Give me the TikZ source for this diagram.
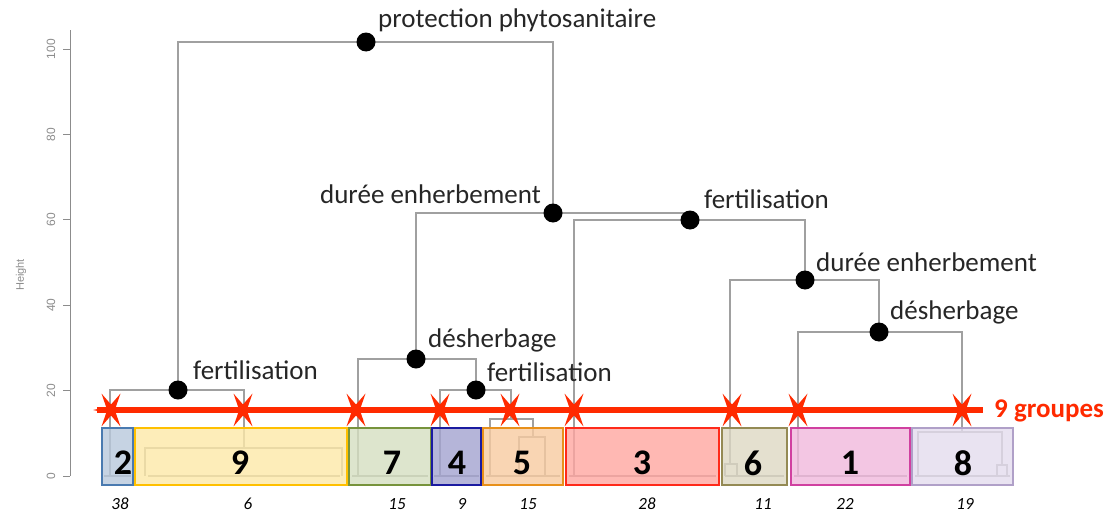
\documentclass[tikz,border=0pt]{standalone}
\usepackage{fontspec}
\setmainfont{Carlito}
\newfontfamily\axisfont{Liberation Sans}
\definecolor{branchgrey}{HTML}{A0A0A0}
\definecolor{axisgrey}{HTML}{8C8C8C}
\definecolor{cutred}{HTML}{FF2A00}
\definecolor{f2}{HTML}{B8C8DC}\definecolor{b2}{HTML}{4A7AB0}
\definecolor{f9}{HTML}{FDE9A8}\definecolor{b9}{HTML}{FFC000}
\definecolor{f7}{HTML}{D5DFC0}\definecolor{b7}{HTML}{77933C}
\definecolor{f4}{HTML}{A3A3D0}\definecolor{b4}{HTML}{1A1AA0}
\definecolor{f5}{HTML}{F8CBA0}\definecolor{b5}{HTML}{E8901A}
\definecolor{f3}{HTML}{FFA6A0}\definecolor{b3}{HTML}{FF2A1A}
\definecolor{f6}{HTML}{DDD8C3}\definecolor{b6}{HTML}{948A54}
\definecolor{f1}{HTML}{F0B8DC}\definecolor{b1}{HTML}{D040A0}
\definecolor{f8}{HTML}{E4DCED}\definecolor{b8}{HTML}{B0A0C8}
\begin{document}
\begin{tikzpicture}[x=1pt,y=-1pt,
  branch/.style={draw=branchgrey, line width=1.3pt},
  dot/.style={circle, fill=black, inner sep=0pt, minimum size=19pt},
  split/.style={font=\fontsize{27}{29}\selectfont, text=black!85, inner sep=0pt},
  groupbox/.style={line width=1.6pt, fill opacity=0.8},
  boxnum/.style={font=\fontsize{36}{38}\selectfont\bfseries, inner sep=0pt},
  sizenum/.style={font=\fontsize{17}{19}\selectfont\itshape, inner sep=0pt},
  tick/.style={font=\axisfont\fontsize{12}{14}\selectfont, text=axisgrey, rotate=90, inner sep=0pt}]
\useasboundingbox (0,0) rectangle (1111,514);

% height axis
\draw[axisgrey, line width=1pt] (70,30) -- (70,476);
\foreach \h in {0,20,...,100}{
  \draw[axisgrey, line width=1pt] (63,{476-4.27*\h}) -- (70,{476-4.27*\h});
  \node[tick] (tick\h) at (51,{476-4.27*\h}) {\h};
}
\node[tick, font=\axisfont\fontsize{11}{13}\selectfont] (ylab) at (21,275) {Height};

% split points
\coordinate (P) at (366,42);
\coordinate (F1) at (178,390);
\coordinate (D1) at (553,213);
\coordinate (Des1) at (416,359);
\coordinate (F2) at (476,390);
\coordinate (F3) at (690,220);
\coordinate (D2) at (805,280);
\coordinate (Des2) at (879,332);
% lower merges hidden inside the group boxes
\coordinate (S9) at (244,448);
\coordinate (S5) at (511,419);
\coordinate (S5b) at (533,437);
\coordinate (S6) at (730,464);
\coordinate (S8) at (962,432);
\coordinate (S8b) at (1002,465);
% leaves at height 0
\foreach \n/\x in {L2/110, L9a/145, L9b/342, L7/358, L4/440, L5a/490, L5b/519, L5c/545,
  L3/574, L6a/725, L6b/737, L1/798, L8a/918, L8b/997, L8c/1007}
  \coordinate (\n) at (\x,476);

% dendrogram
\draw[branch] (F1) |- (P) -| (D1);
\draw[branch] (L2) |- (F1) -| (S9);
\draw[branch] (L9a) |- (S9) -| (L9b);
\draw[branch] (Des1) |- (D1) -| (F3);
\draw[branch] (L7) |- (Des1) -| (F2);
\draw[branch] (L4) |- (F2) -| (S5);
\draw[branch] (L5a) |- (S5) -| (S5b);
\draw[branch] (L5b) |- (S5b) -| (L5c);
\draw[branch] (L3) |- (F3) -| (D2);
\draw[branch] (S6) |- (D2) -| (Des2);
\draw[branch] (L6a) |- (S6) -| (L6b);
\draw[branch] (L1) |- (Des2) -| (S8);
\draw[branch] (L8a) |- (S8) -| (S8b);
\draw[branch] (L8b) |- (S8b) -| (L8c);
% base of the leaves
\foreach \a/\b in {104/131, 148/340, 352/428, 434/479, 486/560, 569/716, 725/784, 794/907, 915/1010}
  \draw[branch] (\a,476) -- (\b,476);

% cut line with its nine cut marks
\coordinate (cutL) at (97,410);
\coordinate (cutR) at (983,410);
\node[font=\fontsize{27}{29}\selectfont\bfseries, text=cutred, anchor=west, inner sep=0pt] (ngroups) at (994,411) {9 groupes};
\draw[cutred, line width=6pt] (cutL) -- (cutR);
\foreach \x [count=\i] in {111,243,356,440,510,574,732,798,962}{
  \coordinate (cut\i) at (\x,410);
  \fill[cutred] (cut\i) +(0:18) -- +(30:5.5) -- +(60:19) -- +(90:5.5) -- +(120:19) -- +(150:5.5)
    -- +(180:18) -- +(210:5.5) -- +(240:19) -- +(270:5.5) -- +(300:19) -- +(330:5.5) -- cycle;
}

% group boxes
\foreach \g/\a/\b/\c in {2/102/133/123, 9/135/347/240, 7/349/431/392, 4/432/481/457,
  5/483/563/522, 3/566/719/642, 6/722/787/753, 1/791/910/850, 8/912/1013/963}{
  \draw[groupbox, draw=b\g, fill=f\g] (\a,428) rectangle (\b,485);
  \node[boxnum] (g\g) at (\c,463) {\g};
}

% group sizes
\foreach \t/\x [count=\i] in {38/120, 6/248, 15/397, 9/462, 15/528, 28/647, 11/763, 22/845, 19/965}
  \node[sizenum] (n\i) at (\x,504) {\t};

% split dots and variables
\foreach \c in {P,F1,D1,Des1,F2,F3,D2,Des2}
  \node[dot] (dot\c) at (\c) {};
\node[split, anchor=west] (tP) at (378,20) {protection phytosanitaire};
\node[split, anchor=west] (tF1) at (193,370) {fertilisation};
\node[split, anchor=east] (tD1) at (541,194) {durée enherbement};
\node[split, anchor=west] (tDes1) at (428,340) {désherbage};
\node[split, anchor=west] (tF2) at (487,372) {fertilisation};
\node[split, anchor=west] (tF3) at (704,199) {fertilisation};
\node[split, anchor=west] (tD2) at (816,262) {durée enherbement};
\node[split, anchor=west] (tDes2) at (890,312) {désherbage};
\end{tikzpicture}
\end{document}
